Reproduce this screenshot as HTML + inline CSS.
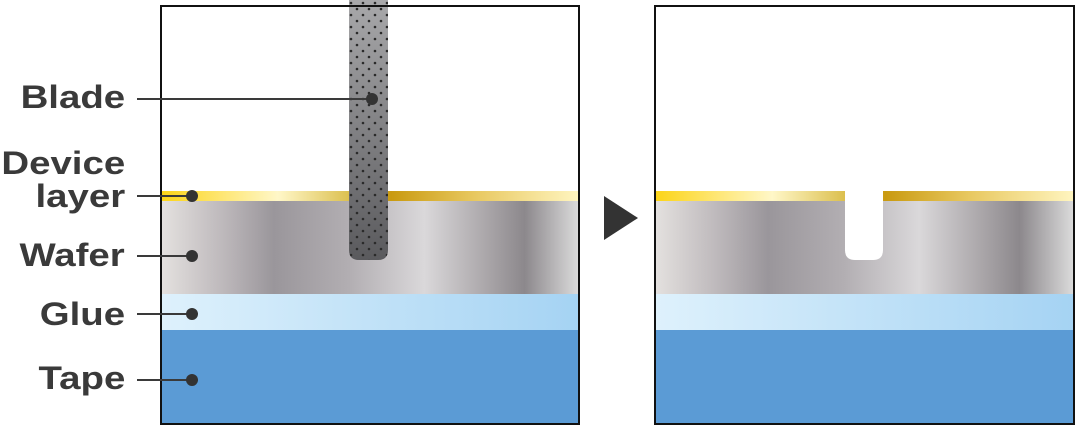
<!DOCTYPE html>
<html><head><style>
body{margin:0;width:1080px;height:429px;background:#fff;position:relative;overflow:hidden;font-family:"Liberation Sans",sans-serif}
.lbl{position:absolute;right:955px;font-weight:bold;font-size:32px;color:#3a3a3a;text-align:right;line-height:33px;white-space:nowrap;transform:scaleX(1.2);transform-origin:right center}
</style></head><body>
<svg width="1080" height="429" style="position:absolute;left:0;top:0">
<defs>
<linearGradient id="gold" x1="0" x2="1"><stop offset="0" stop-color="#fcd417"/><stop offset="0.28" stop-color="#fff7c8"/><stop offset="0.45" stop-color="#dcc050"/><stop offset="0.55" stop-color="#c99a10"/><stop offset="0.75" stop-color="#e8c860"/><stop offset="1" stop-color="#fff5c0"/></linearGradient>
<linearGradient id="wafer" x1="0" x2="1"><stop offset="0" stop-color="#e4e1df"/><stop offset="0.15" stop-color="#bdb8bb"/><stop offset="0.27" stop-color="#9a969b"/><stop offset="0.45" stop-color="#b2aeb2"/><stop offset="0.63" stop-color="#dad8da"/><stop offset="0.78" stop-color="#aaa6a9"/><stop offset="0.87" stop-color="#8c888c"/><stop offset="1" stop-color="#dcdcdc"/></linearGradient>
<linearGradient id="glue" x1="0" x2="1"><stop offset="0" stop-color="#def1fc"/><stop offset="1" stop-color="#a5d3f3"/></linearGradient>
<linearGradient id="blade" x1="0" y1="0" x2="0" y2="1"><stop offset="0" stop-color="#a8a8aa"/><stop offset="1" stop-color="#5a5a5d"/></linearGradient>
<pattern id="dots" width="12" height="12" patternUnits="userSpaceOnUse"><circle cx="3" cy="3" r="1.3" fill="#2a2a2a"/><circle cx="9" cy="9" r="1.3" fill="#2a2a2a"/></pattern>
</defs>
<rect x="161" y="6" width="418" height="418" fill="#fff"/>
<rect x="161" y="191" width="418" height="10" fill="url(#gold)"/>
<rect x="161" y="201" width="418" height="93" fill="url(#wafer)"/>
<rect x="161" y="294" width="418" height="36" fill="url(#glue)"/>
<rect x="161" y="330" width="418" height="94" fill="#5b9bd5"/>
<path d="M349 0 H388 V250 Q388 260 378 260 H359 Q349 260 349 250 Z" fill="url(#blade)"/>
<path d="M349 0 H388 V250 Q388 260 378 260 H359 Q349 260 349 250 Z" fill="url(#dots)"/>
<rect x="161" y="6" width="418" height="418" fill="none" stroke="#111" stroke-width="2"/>
<rect x="655" y="6" width="419" height="418" fill="#fff"/>
<rect x="655" y="191" width="419" height="10" fill="url(#gold)"/>
<rect x="655" y="201" width="419" height="93" fill="url(#wafer)"/>
<rect x="655" y="294" width="419" height="36" fill="url(#glue)"/>
<rect x="655" y="330" width="419" height="94" fill="#5b9bd5"/>
<path d="M845 190 H883 V250 Q883 260 873 260 H855 Q845 260 845 250 Z" fill="#fff"/>
<rect x="655" y="6" width="419" height="418" fill="none" stroke="#111" stroke-width="2"/>
<polygon points="604,196 638,218 604,240" fill="#333"/>
<g stroke="#3a3a3a" stroke-width="2">
<line x1="137" y1="99" x2="372" y2="99"/>
<line x1="137" y1="196" x2="192" y2="196"/>
<line x1="137" y1="256" x2="192" y2="256"/>
<line x1="137" y1="314" x2="192" y2="314"/>
<line x1="137" y1="380" x2="192" y2="380"/>
</g>
<g fill="#333">
<circle cx="372" cy="99" r="6"/><circle cx="192" cy="196" r="6"/><circle cx="192" cy="256" r="6"/><circle cx="192" cy="314" r="6"/><circle cx="192" cy="380" r="6"/>
</g>
</svg>
<div class="lbl" style="top:81px">Blade</div>
<div class="lbl" style="top:147px">Device<br>layer</div>
<div class="lbl" style="top:239px">Wafer</div>
<div class="lbl" style="top:298px">Glue</div>
<div class="lbl" style="top:362px">Tape</div>
</body></html>
